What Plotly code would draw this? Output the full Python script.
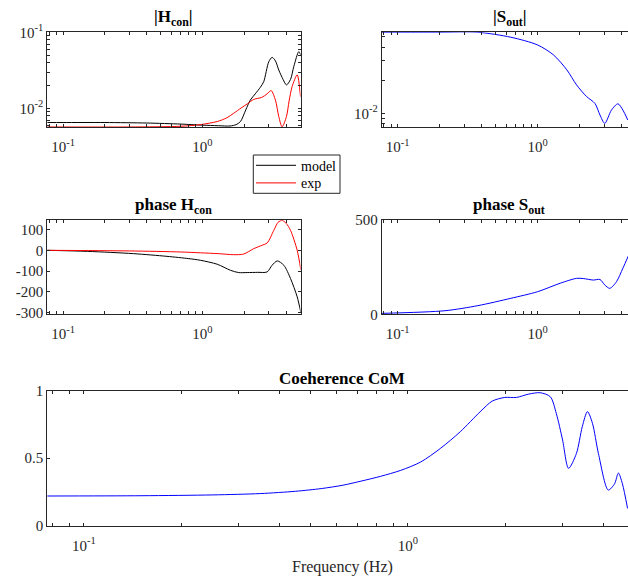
import plotly.graph_objects as go

# ---------------- data ----------------
f_hmod = [0.077, 0.1, 0.2, 0.4, 0.7, 1.0, 1.3, 1.58, 1.75, 1.88, 2.05, 2.21, 2.4, 2.61, 2.76, 3.0, 3.17, 3.35, 3.54, 3.8, 4.02, 4.3, 4.54, 4.93, 5.1]
h_model = [0.0065, 0.0065, 0.0065, 0.0064, 0.0062, 0.0060, 0.0059, 0.00585, 0.0061, 0.0067, 0.0095, 0.0128, 0.0155, 0.0189, 0.0224, 0.041, 0.0468, 0.042, 0.0319, 0.024, 0.0203, 0.024, 0.0355, 0.0556, 0.050]

f_hexp = [0.077, 0.3, 0.7, 0.97, 1.28, 1.5, 1.68, 1.9, 2.1, 2.34, 2.67, 2.92, 3.12, 3.35, 3.54, 3.74, 4.02, 4.2, 4.41, 4.8, 5.07]
h_exp = [0.00568, 0.00568, 0.0058, 0.0061, 0.0067, 0.0075, 0.0086, 0.0101, 0.0114, 0.0131, 0.0139, 0.0155, 0.0171, 0.0128, 0.0078, 0.0057, 0.0078, 0.0125, 0.0192, 0.0275, 0.0142]

f_sout = [0.077, 0.2, 0.375, 0.645, 1.0, 1.3, 1.62, 1.9, 2.24, 2.57, 2.79, 3.02, 3.37, 3.75, 4.07, 4.41]
s_out = [0.0545, 0.0545, 0.0545, 0.0491, 0.0418, 0.0339, 0.0248, 0.0181, 0.0142, 0.0123, 0.00966, 0.0081, 0.0107, 0.0122, 0.0107, 0.0087]

f_phmod = [0.077, 0.15, 0.32, 0.557, 0.8, 0.97, 1.28, 1.59, 1.82, 2.1, 2.5, 2.92, 3.17, 3.45, 3.85, 4.3, 4.8, 5.1]
ph_model = [0, -5, -16, -29, -40, -48, -67, -96, -107, -107, -106, -104, -72, -51, -72, -136, -224, -300]

f_phexp = [0.077, 0.3, 0.7, 0.97, 1.3, 1.68, 1.98, 2.34, 2.7, 2.92, 3.26, 3.5, 3.74, 4.0, 4.3, 4.8, 5.1]
ph_exp = [0, -3, -8, -12, -16, -21, -18, 8, 25, 35, 96, 135, 144, 130, 96, 0, -95]

f_phs = [0.077, 0.218, 0.375, 0.645, 1.0, 1.45, 1.9, 2.12, 2.5, 2.79, 3.02, 3.28, 3.66, 4.07, 4.45]
ph_sout = [5, 19, 46, 85, 120, 165, 191, 190, 182, 185, 156, 138, 173, 245, 310]

f_coh = [0.077, 0.15, 0.25, 0.35, 0.45, 0.54, 0.63, 0.716, 0.824, 0.95, 1.095, 1.26, 1.45, 1.67, 1.82, 1.99, 2.16, 2.36, 2.56, 2.75, 2.87, 3.0, 3.13, 3.31, 3.45, 3.58, 3.71, 3.87, 4.15, 4.34, 4.46, 4.59, 4.76]
coh = [0.22, 0.222, 0.228, 0.238, 0.255, 0.275, 0.30, 0.33, 0.366, 0.41, 0.472, 0.573, 0.696, 0.844, 0.923, 0.95, 0.95, 0.975, 0.985, 0.955, 0.83, 0.635, 0.425, 0.535, 0.733, 0.845, 0.758, 0.535, 0.264, 0.31, 0.39, 0.31, 0.128]

x_major = [0.1, 1]
x_major_text = ["10<sup>-1</sup>", "10<sup>0</sup>"]

# ---------------- styling helpers ----------------
W, H = 628, 579
FONT = "Liberation Serif"
AX = "#262626"

def px(x):
    return x / W

def py(y):
    return 1 - y / H

minor = [0.08, 0.09] + [k / 10 for k in range(2, 10)] + [2, 3, 4, 5]
xt_vals = sorted(minor + x_major)
xt_text = [x_major_text[x_major.index(v)] if v in x_major else "" for v in xt_vals]

fig = go.Figure()

def line(x, y, color, xa, ya, name=None, show=False, legend="legend"):
    fig.add_trace(go.Scatter(x=x, y=y, mode="lines", line=dict(color=color, width=1, shape="spline", smoothing=0.8),
                             xaxis=xa, yaxis=ya, name=name, showlegend=show, legend=legend, hoverinfo="skip"))

line(f_hmod, h_model, "black", "x", "y", "model", True, "legend")
line(f_hexp, h_exp, "red", "x", "y", "exp", True, "legend2")
line(f_sout, s_out, "blue", "x2", "y2")
line(f_phmod, ph_model, "black", "x3", "y3")
line(f_phexp, ph_exp, "red", "x3", "y3")
line(f_phs, ph_sout, "blue", "x4", "y4")
line(f_coh, coh, "blue", "x5", "y5")

tickfont = dict(family=FONT, size=15, color="#262626")

def xax(domain, rng, anchor):
    return dict(type="log", domain=domain, range=rng, anchor=anchor, showline=True, linecolor=AX, linewidth=1,
                mirror="ticks", ticks="inside", ticklen=3, tickcolor=AX, tickvals=xt_vals, ticktext=xt_text,
                showgrid=False, zeroline=False, tickfont=tickfont, ticklabelstandoff=6)

def yax(domain, anchor, mirror, **kw):
    d = dict(domain=domain, anchor=anchor, showline=True, linecolor=AX, linewidth=1,
             mirror=mirror, ticks="inside", ticklen=3, tickcolor=AX, showgrid=False, zeroline=False,
             tickfont=tickfont)
    d.update(kw)
    return d

xl = [px(47.3), px(300.5)]
xr = [px(381.7), 1.0]
xb = [px(47.3), 1.0]
yt = [py(127.3), py(32.3)]
ym = [py(314.3), py(220.2)]
yb = [py(525.7), py(390.7)]

log_minor_h = [0.006, 0.007, 0.008, 0.009, 0.01, 0.02, 0.03, 0.04, 0.05, 0.06, 0.07, 0.08, 0.09, 0.1]
log_minor_h_text = ["10<sup>-2</sup>" if v == 0.01 else ("10<sup>-1</sup>" if v == 0.1 else "") for v in log_minor_h]
log_minor_s = [0.008, 0.009, 0.01, 0.02, 0.03, 0.04, 0.05]
log_minor_s_text = ["10<sup>-2</sup>" if v == 0.01 else "" for v in log_minor_s]

ph_ticks = [-300, -200, -100, 0, 100]
ph_text = [str(v) for v in ph_ticks]

leg_common = dict(xanchor="left", yanchor="middle", bgcolor="rgba(0,0,0,0)", borderwidth=0,
                  font=dict(family=FONT, size=14, color="black"), itemwidth=40)

fig.update_layout(
    width=W, height=H, margin=dict(l=0, r=0, t=0, b=0, autoexpand=False),
    paper_bgcolor="white", plot_bgcolor="white",
    font=dict(family=FONT, size=15, color="#262626"),
    xaxis=xax(xl, [-1.113, 0.705], "y"),
    yaxis=yax(yt, "x", "ticks", type="log", range=[-2.25, -1], tickvals=log_minor_h, ticktext=log_minor_h_text),
    xaxis2=xax(xr, [-1.113, 0.646], "y2"),
    yaxis2=yax(yt, "x2", False, type="log", range=[-2.127, -1.264], tickvals=log_minor_s, ticktext=log_minor_s_text),
    xaxis3=xax(xl, [-1.113, 0.705], "y3"),
    yaxis3=yax(ym, "x3", "ticks", range=[-308, 145], tickvals=ph_ticks, ticktext=ph_text),
    xaxis4=xax(xr, [-1.113, 0.646], "y4"),
    yaxis4=yax(ym, "x4", False, range=[0, 500], tickvals=[0, 500]),
    xaxis5=xax(xb, [-1.113, 0.679], "y5"),
    yaxis5=yax(yb, "x5", False, range=[0, 1], tickvals=[0, 0.5, 1], ticktext=["0", "0.5", "1"]),
    legend=dict(x=px(251), y=py(165.7), **leg_common),
    legend2=dict(x=px(251), y=py(183.3), **leg_common),
    shapes=[dict(type="rect", xref="paper", yref="paper", x0=px(253.3), x1=px(340), y0=py(193.3), y1=py(155),
                 line=dict(color="#262626", width=1), fillcolor="white", layer="above")],
)

def title(text, xc, ybottom):
    fig.add_annotation(text=text, x=px(xc), y=py(ybottom), xref="paper", yref="paper", xanchor="center",
                       yanchor="bottom", showarrow=False, font=dict(family=FONT, size=17, color="black"))

title("<b>|H<sub>con</sub>|</b>", 173.9, 31)
title("<b>phase H<sub>con</sub></b>", 173.9, 219)
title("<b>|S<sub>out</sub>|</b>", 509, 31)
title("<b>phase S<sub>out</sub></b>", 509, 219)
title("<b>Coeherence CoM</b>", 342, 390)

fig.add_annotation(text="Frequency (Hz)", x=px(342), y=py(567), xref="paper", yref="paper", xanchor="center",
                   yanchor="middle", showarrow=False, font=dict(family=FONT, size=16, color="#262626"))

fig.write_html("out.html", config={"displayModeBar": False}, post_script="document.body.style.margin='0px';")
